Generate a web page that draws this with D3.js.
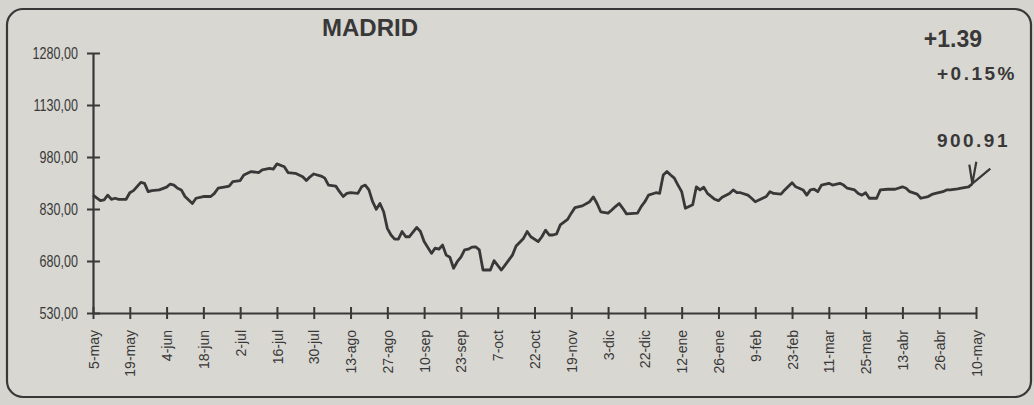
<!DOCTYPE html>
<html>
<head>
<meta charset="utf-8">
<script src="https://cdn.jsdelivr.net/npm/d3@7"></script>
<style>
  body { margin: 0; background: #d6d4cf; }
  svg { display: block; }
</style>
</head>
<body>
<svg></svg>
<script>
// tick labels along the bottom (one every ~10 sessions)
let xLabels = ["5-may", "19-may", "4-jun", "18-jun", "2-jul", "16-jul", "30-jul", "13-ago", "27-ago",
               "10-sep", "23-sep", "7-oct", "22-oct", "19-nov", "3-dic", "22-dic", "12-ene", "26-ene",
               "9-feb", "23-feb", "11-mar", "25-mar", "13-abr", "26-abr", "10-may"]
let yTicks = [530, 680, 830, 980, 1130, 1280]

// session number (from 5-may) and index value
let sessions = [0, 2, 3, 4, 5, 6, 7, 9, 10, 11, 13, 14, 15, 16, 18, 20, 21, 22, 23, 24,
                25, 27, 28, 30, 32, 33, 34, 36, 37, 38, 40, 41, 43, 45, 46, 48, 49, 50, 52, 53,
                55, 57, 58, 59, 60, 62, 63, 64, 66, 67, 68, 69, 70, 72, 73, 74, 75, 76, 77, 78,
                79, 80, 81, 82, 83, 84, 85, 86, 88, 89, 90, 92, 93, 94, 95, 96, 97, 98, 99, 100,
                101, 102, 103, 104, 105, 106, 108, 109, 111, 112, 114, 115, 117, 118, 119, 121, 122, 123, 124, 125,
                126, 127, 129, 130, 131, 133, 135, 136, 137, 138, 140, 141, 142, 143, 144, 145, 148, 149, 150, 151,
                153, 154, 155, 156, 157, 158, 159, 160, 161, 163, 164, 165, 166, 167, 169, 170, 171, 173, 174, 175,
                176, 178, 179, 180, 182, 183, 184, 185, 187, 188, 190, 191, 193, 194, 195, 196, 197, 198, 200, 201,
                203, 204, 205, 207, 208, 209, 210, 211, 213, 214, 216, 218, 220, 221, 222, 224, 225, 227, 228, 229,
                231, 232, 233, 235, 236, 238, 239]
let closes = [870, 854, 856, 870, 858, 861, 858, 858, 877, 883, 907, 904, 880, 883, 885, 893, 902, 899, 890, 885,
              866, 846, 861, 866, 866, 875, 890, 894, 896, 909, 912, 928, 938, 935, 943, 947, 945, 960, 952, 935,
              933, 923, 912, 923, 931, 925, 919, 899, 896, 880, 866, 875, 877, 875, 894, 899, 885, 851, 829, 846,
              822, 774, 755, 743, 743, 765, 750, 750, 777, 765, 736, 702, 717, 714, 726, 697, 691, 659, 678, 691,
              712, 714, 720, 721, 712, 654, 654, 681, 654, 668, 697, 723, 745, 765, 750, 736, 750, 769, 755, 755,
              758, 784, 800, 818, 834, 839, 851, 865, 846, 822, 818, 827, 837, 846, 832, 816, 818, 837, 851, 870,
              877, 875, 928, 938, 928, 919, 899, 880, 832, 842, 894, 885, 893, 875, 858, 854, 864, 875, 885, 877,
              877, 870, 861, 851, 861, 866, 880, 875, 873, 885, 906, 894, 885, 870, 885, 887, 880, 899, 904, 899,
              904, 899, 890, 885, 875, 870, 877, 861, 861, 885, 887, 887, 894, 890, 880, 873, 861, 866, 872, 875,
              880, 885, 885, 888, 890, 894, 903]

let title = "MADRID"
let change = "+1.39"
let changePct = "+0.15%"
let lastValue = "900.91"

let width = 1034
let height = 405
let ink = "#383838"

let svg = d3.select("svg")
    .attr("width", width)
    .attr("height", height)

// paper frame
svg.append("rect")
    .attr("x", 7)
    .attr("y", 9)
    .attr("width", 1024)
    .attr("height", 388)
    .attr("rx", 16)
    .attr("fill", "#d9d7d2")
    .attr("stroke", ink)
    .attr("stroke-width", 2.2)

let plotLeft = 93, plotRight = 976, plotTop = 53, plotBottom = 313

let xAxisScale = d3.scalePoint()
    .domain(xLabels)
    .range([plotLeft, plotRight])

let xScale = d3.scaleLinear()
    .domain([0, (xLabels.length - 1) * 10])
    .range([plotLeft, plotRight])

let yScale = d3.scaleLinear()
    .domain([d3.min(yTicks), d3.max(yTicks)])
    .range([plotBottom, plotTop])

let es = d3.formatLocale({ decimal: ",", thousands: "", grouping: [3], currency: ["", ""] })

// axes
let xAxis = d3.axisBottom(xAxisScale).tickSizeInner(6).tickSizeOuter(0).tickPadding(0)
let gx = svg.append("g")
    .attr("transform", "translate(0," + plotBottom + ")")
    .call(xAxis)
gx.select(".domain").attr("stroke", ink).attr("stroke-width", 2.2)
gx.selectAll(".tick line").attr("y1", -6).attr("y2", 6).attr("stroke", ink).attr("stroke-width", 2)
gx.selectAll(".tick text")
    .attr("transform", "translate(0,17) rotate(-90)")
    .attr("x", 0)
    .attr("y", 0)
    .attr("dy", "0.36em")
    .attr("text-anchor", "end")
    .attr("fill", ink)
    .style("font-family", "'Liberation Sans', Arial, sans-serif")
    .style("font-size", "14px")

let yAxis = d3.axisLeft(yScale).tickValues(yTicks).tickFormat(es.format(".2f"))
    .tickSizeInner(6).tickSizeOuter(0)
let gy = svg.append("g")
    .attr("transform", "translate(" + plotLeft + ",0)")
    .call(yAxis)
gy.select(".domain").attr("stroke", ink).attr("stroke-width", 2.2)
gy.selectAll(".tick line").attr("x1", -6).attr("x2", 7).attr("stroke", ink).attr("stroke-width", 2)
// the printed labels are a tall, condensed face
gy.selectAll(".tick text")
    .attr("x", 0)
    .attr("transform", "translate(-15,0) scale(0.74,1)")
    .attr("fill", ink)
    .style("font-family", "'Liberation Sans', Arial, sans-serif")
    .style("font-size", "17px")

// the index line
let line = d3.line()
    .x((d, i) => xScale(sessions[i]))
    .y((d) => yScale(d))

svg.append("path")
    .datum(closes)
    .attr("d", line)
    .attr("fill", "none")
    .attr("stroke", ink)
    .attr("stroke-width", 2.8)
    .attr("stroke-linejoin", "round")

// arrow pointing at the last close
let tipX = xScale(sessions[sessions.length - 1])
let tipY = yScale(closes[closes.length - 1])
svg.append("path")
    .attr("d", "M" + (tipX - 3) + "," + (tipY - 19) + "L" + tipX + "," + tipY
        + "L" + (tipX + 18) + "," + (tipY - 15)
        + "M" + (tipX + 4) + "," + (tipY - 22) + "L" + tipX + "," + tipY)
    .attr("fill", "none")
    .attr("stroke", ink)
    .attr("stroke-width", 2.2)

// texts
let bold = "'Liberation Sans', Arial, sans-serif"
svg.append("text")
    .attr("x", 370).attr("y", 36)
    .attr("text-anchor", "middle")
    .attr("fill", ink)
    .style("font-family", bold).style("font-weight", "bold").style("font-size", "24px")
    .text(title)

svg.append("text")
    .attr("x", 982).attr("y", 47)
    .attr("text-anchor", "end")
    .attr("fill", ink)
    .style("font-family", bold).style("font-weight", "bold").style("font-size", "23px")
    .text(change)

svg.append("text")
    .attr("x", 1017).attr("y", 80)
    .attr("text-anchor", "end")
    .attr("fill", ink)
    .style("font-family", bold).style("font-weight", "bold").style("font-size", "19px")
    .style("letter-spacing", "2.5px")
    .text(changePct)

svg.append("text")
    .attr("x", 1010).attr("y", 147)
    .attr("text-anchor", "end")
    .attr("fill", ink)
    .style("font-family", bold).style("font-weight", "bold").style("font-size", "19px")
    .style("letter-spacing", "2.5px")
    .text(lastValue)
</script>
</body>
</html>
